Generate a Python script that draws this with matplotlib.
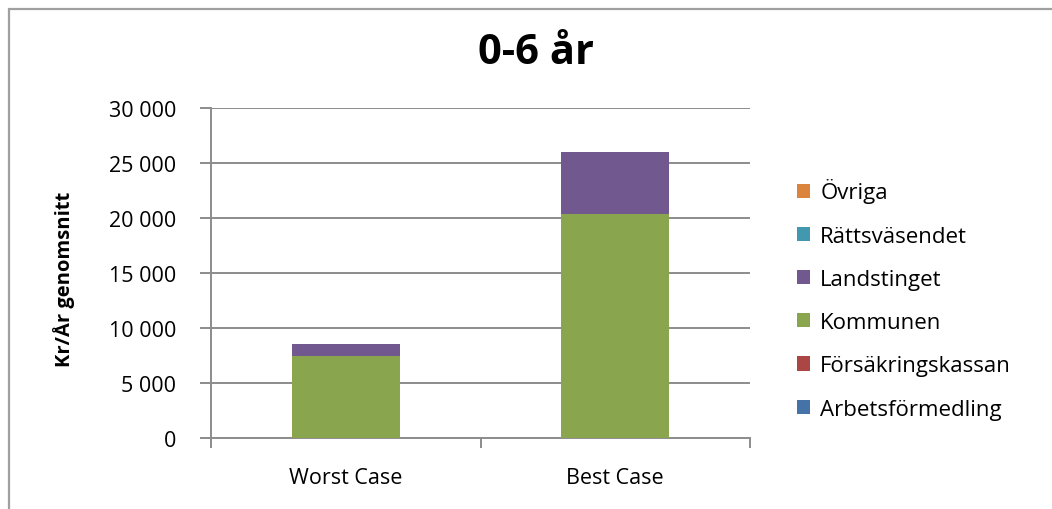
import matplotlib.pyplot as plt
import numpy as np
from matplotlib.patches import Rectangle

categories = ["Worst Case", "Best Case"]
# stacked from the bottom up
series = [
    "Arbetsförmedling",
    "Försäkringskassan",
    "Kommunen",
    "Landstinget",
    "Rättsväsendet",
    "Övriga",
]
values = {
    "Arbetsförmedling": [0, 0],
    "Försäkringskassan": [0, 0],
    "Kommunen": [7450, 20400],
    "Landstinget": [1100, 5600],
    "Rättsväsendet": [0, 0],
    "Övriga": [0, 0],
}
colors = {
    "Arbetsförmedling": "#4572A7",
    "Försäkringskassan": "#AA4643",
    "Kommunen": "#89A54E",
    "Landstinget": "#71588F",
    "Rättsväsendet": "#4198AF",
    "Övriga": "#DB843D",
}
yticks = [0, 5000, 10000, 15000, 20000, 25000, 30000]
ytick_labels = ["0", "5 000", "10 000", "15 000", "20 000", "25 000", "30 000"]

plt.rcParams["font.family"] = ["Open Sans", "DejaVu Sans"]
grey = "#8C8C8C"

fig = plt.figure(figsize=(10.52, 5.10), dpi=100)
ax = fig.add_axes([211 / 1052, 1 - 439 / 510, 539 / 1052, 330 / 510])

x = np.arange(len(categories))
bottom = np.zeros(len(categories))
handles = []
for name in series:
    vals = np.array(values[name], dtype=float)
    h = ax.bar(x, vals, width=0.4, bottom=bottom, color=colors[name],
               linewidth=0, label=name, zorder=3)
    handles.append(h)
    bottom += vals

ax.set_xlim(-0.5, 1.5)
ax.set_ylim(0, 30000)
ax.set_yticks(yticks)
ax.set_yticklabels(ytick_labels, fontsize=15.5)
ax.set_xticks(x)
ax.set_xticklabels(categories, fontsize=15.5)
ax.set_xticks([-0.5, 0.5, 1.5], minor=True)
ax.tick_params(axis="x", which="major", length=0, pad=21)
ax.tick_params(axis="x", which="minor", length=7, width=1.4, color=grey)
ax.tick_params(axis="y", length=8, width=1.4, color=grey, pad=17)

ax.grid(axis="y", color=grey, linewidth=1.4, zorder=0)
ax.set_axisbelow(True)
for side in ["top", "right"]:
    ax.spines[side].set_visible(False)
for side in ["left", "bottom"]:
    ax.spines[side].set_color(grey)
    ax.spines[side].set_linewidth(1.4)

fig.text(536 / 1052, 1 - 54 / 510, "0-6 år", fontsize=30, fontweight="bold",
         ha="center", va="center")
fig.text(64 / 1052, 1 - 279 / 510, "Kr/År genomsnitt", fontsize=14.5,
         fontweight="bold", rotation=90, ha="center", va="center")

fig.legend(handles[::-1], series[::-1], loc="center left",
           bbox_to_anchor=(788 / 1052, 1 - 300 / 510), frameon=False,
           fontsize=16, handlelength=0.6, handleheight=0.6,
           handletextpad=0.45, labelspacing=1.0, borderaxespad=0)

# outer chart frame
fig.patches.append(Rectangle((9 / 1052, -0.1), 1.2, 1 - 10 / 510 + 0.1,
                             transform=fig.transFigure, fill=False,
                             edgecolor="#A0A0A0", linewidth=1.6))

fig.savefig("out.png", dpi=100)
